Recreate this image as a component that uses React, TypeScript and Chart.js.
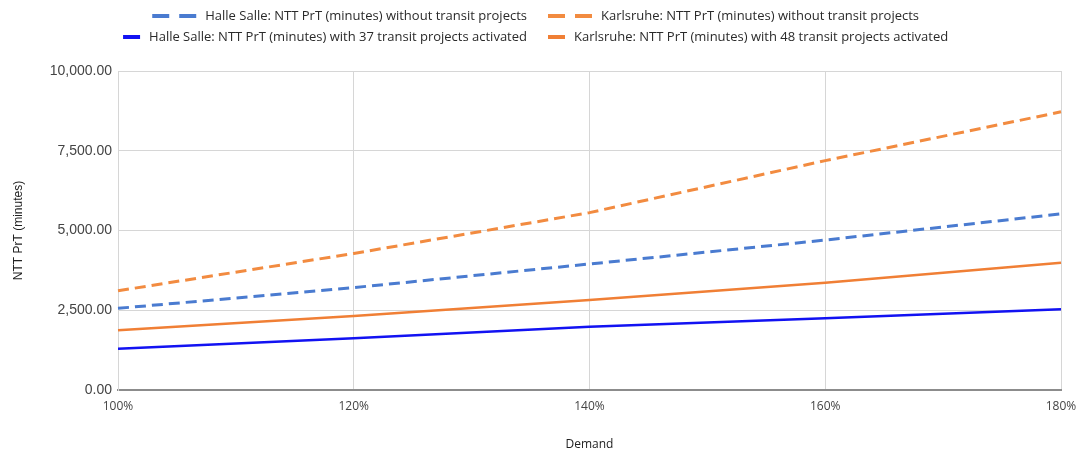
import React, { useEffect, useRef } from 'react';
import { Chart, registerables } from 'chart.js';

Chart.register(...registerables);

const demandLabels = ['100%', '120%', '140%', '160%', '180%'];
const halleWithout = [2560, 3210, 3950, 4700, 5520];
const karlsruheWithout = [3110, 4280, 5560, 7190, 8720];
const halleWith = [1290, 1620, 1980, 2250, 2530];
const karlsruheWith = [1870, 2320, 2820, 3360, 3990];

const seriesLabels = [
  'Halle Salle: NTT PrT (minutes) without transit projects',
  'Karlsruhe: NTT PrT (minutes) without transit projects',
  'Halle Salle: NTT PrT (minutes) with 37 transit projects activated',
  'Karlsruhe: NTT PrT (minutes) with 48 transit projects activated',
];
const yMin = 0;
const yMax = 10000;
const yStep = 2500;
const xTitle = 'Demand';
const yTitle = 'NTT PrT (minutes)';

const FONT = '"Liberation Sans", Arial, sans-serif';
const FONT2 = '"Open Sans", "Liberation Sans", Arial, sans-serif';

const legendPlugin = {
  id: 'columnLegend',
  afterDraw(chart: any) {
    const ctx = chart.ctx as CanvasRenderingContext2D;
    const ds = chart.data.datasets;
    ctx.save();
    ctx.font = `13px ${FONT2}`;
    ctx.textBaseline = 'middle';
    const rows = [
      [0, 1],
      [2, 3],
    ];
    const rowY = [16, 37];
    const splitX = 527;
    const col2X = 548;
    const gap = 9;
    rows.forEach((row, r) => {
      row.forEach((idx, c) => {
        const d = ds[idx];
        const dashed = Array.isArray(d.borderDash) && d.borderDash.length > 0;
        const mw = dashed ? 44 : 17;
        const text = d.label as string;
        const tw = ctx.measureText(text).width;
        let mx: number, tx: number;
        if (c === 0) {
          tx = splitX - tw;
          mx = tx - gap - mw;
        } else {
          mx = col2X;
          tx = col2X + mw + gap;
        }
        const y = rowY[r];
        ctx.fillStyle = d.borderColor;
        if (dashed) {
          ctx.fillRect(mx, y - 2, 17, 4);
          ctx.fillRect(mx + 27, y - 2, 17, 4);
        } else {
          ctx.fillRect(mx, y - 2, 17, 4);
        }
        ctx.fillStyle = '#2a2a2a';
        ctx.fillText(text, tx, y + 0.5);
      });
    });
    ctx.restore();
  },
};

export default function App() {
  const ref = useRef<HTMLCanvasElement | null>(null);

  useEffect(() => {
    document.body.style.margin = '0';
    const canvas = ref.current;
    if (!canvas) return;
    const chart = new Chart(canvas, {
      type: 'line',
      data: {
        labels: demandLabels,
        datasets: [
          {
            label: seriesLabels[0],
            data: halleWithout,
            borderColor: '#4a7bd0',
            backgroundColor: '#4a7bd0',
            borderWidth: 3,
            borderDash: [11, 6],
            pointRadius: 0,
            tension: 0,
          },
          {
            label: seriesLabels[1],
            data: karlsruheWithout,
            borderColor: '#f28b40',
            backgroundColor: '#f28b40',
            borderWidth: 3,
            borderDash: [11, 6],
            pointRadius: 0,
            tension: 0,
          },
          {
            label: seriesLabels[2],
            data: halleWith,
            borderColor: '#1212f2',
            backgroundColor: '#1212f2',
            borderWidth: 2.5,
            borderDash: [],
            pointRadius: 0,
            tension: 0,
          },
          {
            label: seriesLabels[3],
            data: karlsruheWith,
            borderColor: '#f07f35',
            backgroundColor: '#f07f35',
            borderWidth: 2.5,
            borderDash: [],
            pointRadius: 0,
            tension: 0,
          },
        ],
      },
      options: {
        responsive: false,
        animation: false,
        layout: { padding: { top: 71, right: 20, left: 0, bottom: 0 } },
        plugins: {
          legend: { display: false },
          tooltip: { enabled: false },
          title: { display: false },
        },
        scales: {
          x: {
            type: 'category',
            offset: false,
            grid: { color: '#d6d6d6', lineWidth: 1, drawTicks: false },
            border: { display: true, color: '#8c8c8c', width: 2 },
            ticks: {
              color: '#444444',
              font: { family: FONT2, size: 12 },
              padding: 9,
              maxRotation: 0,
            },
            title: {
              display: true,
              text: xTitle,
              color: '#222222',
              font: { family: FONT2, size: 12 },
              padding: { top: 0, bottom: 3 },
            },
            afterFit(scale: any) {
              scale.height = 65;
              scale.paddingLeft = 0;
              scale.paddingRight = 0;
            },
          },
          y: {
            min: yMin,
            max: yMax,
            grid: { color: '#d6d6d6', lineWidth: 1, drawTicks: false },
            border: { display: true, color: '#d6d6d6', width: 1 },
            ticks: {
              stepSize: yStep,
              color: '#444444',
              font: { family: FONT, size: 14 },
              padding: 6,
              callback: (v: any) =>
                Number(v).toLocaleString('en-US', {
                  minimumFractionDigits: 2,
                  maximumFractionDigits: 2,
                }),
            },
            title: {
              display: true,
              text: yTitle,
              color: '#222222',
              font: { family: FONT, size: 12 },
              padding: { top: 11, bottom: 0 },
            },
            afterFit(scale: any) {
              scale.width = 118;
            },
          },
        },
      },
      plugins: [legendPlugin],
    });
    return () => chart.destroy();
  }, []);

  return (
    <div style={{ width: 1081, height: 455 }}>
      <canvas ref={ref} width={1081} height={455} />
    </div>
  );
}
